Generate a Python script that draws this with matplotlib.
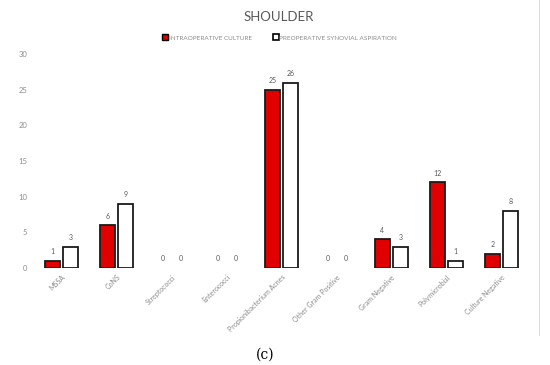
import numpy as np
import matplotlib
matplotlib.use('Agg')
import matplotlib.pyplot as plt
from matplotlib.lines import Line2D

categories = ['MSSA', 'CoNS', 'Streptococci', 'Enterococci', 'Propionibacterium Acnes',
              'Other Gram Positive', 'Gram Negative', 'Polymicrobial', 'Culture Negative']
intraop = [1, 6, 0, 0, 25, 0, 4, 12, 2]
preop = [3, 9, 0, 0, 26, 0, 3, 1, 8]
yticks = [0, 5, 10, 15, 20, 25, 30]

grey = '#8c8c8c'
plt.rcParams['font.family'] = ['Lato', 'DejaVu Sans']

fig = plt.figure(figsize=(5.5, 3.65), dpi=100)
ax = fig.add_axes([34/550, 0.2658, 495/550, 0.852 - 0.2658])

x = np.arange(len(categories))
w = 0.27
b1 = ax.bar(x - w/2 - 0.03, intraop, w, color='#e00000', edgecolor='#1a1a1a', linewidth=1.3)
b2 = ax.bar(x + w/2 + 0.03, preop, w, color='white', edgecolor='#1a1a1a', linewidth=1.3)
for bars in (b1, b2):
    for r in bars:
        if r.get_height() == 0:
            r.set_linewidth(0)
        ax.annotate(str(int(r.get_height())), (r.get_x() + r.get_width()/2, r.get_height()),
                    xytext=(0, 4), textcoords='offset points', ha='center', va='bottom',
                    fontsize=5, color='#595959')

ax.set_xlim(-0.5, len(categories) - 0.5)
ax.set_ylim(0, 30)
ax.set_yticks(yticks)
ax.set_xticks(x)
ax.set_xticklabels(categories, rotation=45, ha='right', rotation_mode='anchor',
                   fontsize=5, color=grey)
ax.tick_params(axis='y', labelsize=5.5, labelcolor=grey, length=0, pad=5)
ax.tick_params(axis='x', length=0, pad=4)
for s in ax.spines.values():
    s.set_visible(False)

fig.text(0.507, 0.953, 'SHOULDER', ha='center', va='center', fontsize=9.5, color='#595959')

handles = [Line2D([], [], marker='s', linestyle='', markersize=4, markerfacecolor='#e00000',
                  markeredgecolor='black', markeredgewidth=1),
           Line2D([], [], marker='s', linestyle='', markersize=4, markerfacecolor='white',
                  markeredgecolor='black', markeredgewidth=1.2)]
fig.legend(handles, ['INTRAOPERATIVE CULTURE', 'PREOPERATIVE SYNOVIAL ASPIRATION'],
           loc='center', bbox_to_anchor=(0.508, 0.896), ncol=2, frameon=False,
           fontsize=4.6, labelcolor=grey, handletextpad=0.1, columnspacing=3.2,
           handlelength=1.0)

fig.add_artist(Line2D([539/550, 539/550], [1 - 335/365, 1.0], color='#dddddd', linewidth=0.8))

fig.text(0.482, 0.028, '(c)', ha='center', va='center', fontsize=10,
         family=['DejaVu Serif'], color='black')

fig.savefig('out.png', dpi=100)
